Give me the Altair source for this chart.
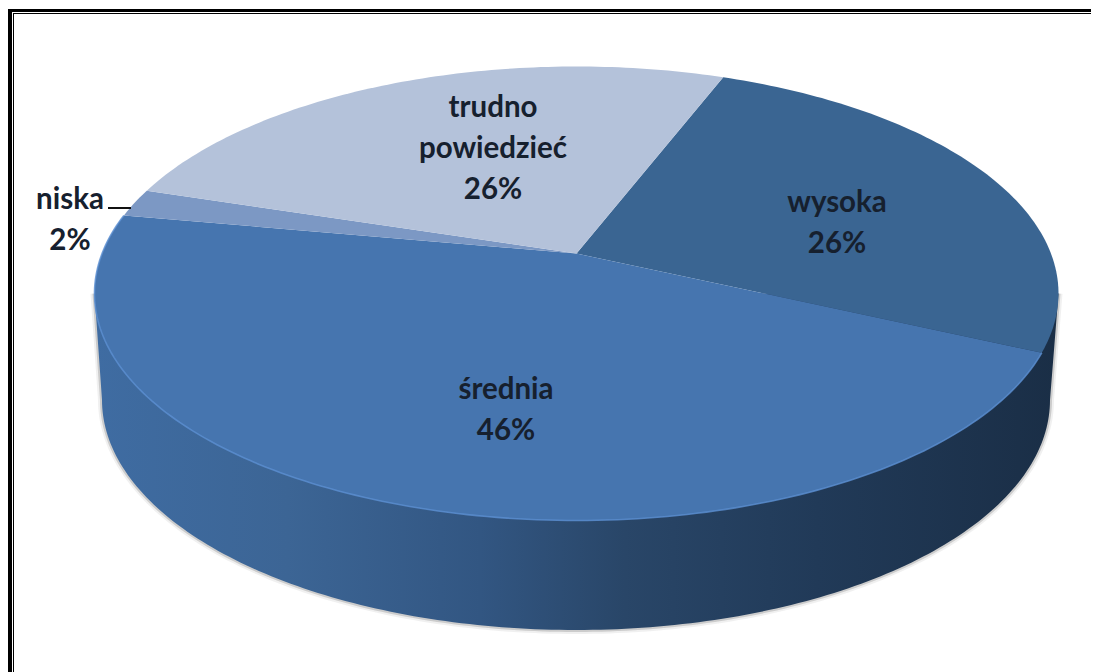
import math
import altair as alt
import pandas as pd

# --- chart values ---
categories = ["wysoka", "średnia", "niska", "trudno powiedzieć"]
shares = [26, 46, 2, 26]
colors = ["#3a6592", "#4675af", "#7c98c4", "#b4c2da"]
label_texts = ["wysoka\n26%", "średnia\n46%", "niska\n2%", "trudno\npowiedzieć\n26%"]

# --- layout of the picture ---
W, H, OX, OY = 1083, 664, 8, 8
CX, CY, RX, RY = 576.5, 293.5, 482.0, 227.0
APEX_Y = -0.176            # perspective shift of the pie centre, in ellipse units
START_DEG = 21.1
BOTTOM = dict(cx=576.0, cy=400.0, rx=474.0, ry=230.0)


def to_unit(px, py):
    return (px - CX) / RX, (py - CY) / RY


def project(deg, r=1.0):
    """Point of the tilted pie: angle clockwise from the top, r in 0..1."""
    a = math.radians(deg)
    X, Y = r * math.sin(a), -r * math.cos(a)
    d = 1 + APEX_Y * Y
    return X * math.sqrt(1 - APEX_Y ** 2) / d, (Y + APEX_Y) / d


# top face slices
slice_rows = []
angle = START_DEG
edge_rows = []
for cat, share in zip(categories, shares):
    sweep = share * 3.6
    pts = [project(0, 0)]
    n = max(4, int(sweep))
    for k in range(n + 1):
        pts.append(project(angle + sweep * k / n))
    pts.append(project(0, 0))
    for i, (x, y) in enumerate(pts):
        slice_rows.append({"cat": cat, "i": i, "x": x, "y": y})
    if cat == "średnia":
        for k in range(n + 1):
            x, y = project(angle + sweep * k / n)
            edge_rows.append({"i": k, "x": x, "y": y})
    angle += sweep

# side wall outline: right end of the top face, lower edge of bottom, left end of the top face
wall_rows = []
for k in range(0, 181):
    t = math.radians(k)
    px = BOTTOM["cx"] + BOTTOM["rx"] * math.cos(t)
    py = BOTTOM["cy"] + BOTTOM["ry"] * math.sin(t)
    x, y = to_unit(px, py)
    wall_rows.append({"i": k + 1, "x": x, "y": y})
wall_rows = [{"i": 0, "x": 1.0, "y": 0.0}] + wall_rows + [{"i": 182, "x": -1.0, "y": 0.0}]
shadow_rows = wall_rows

x_scale = alt.Scale(domain=[(OX - CX) / RX, (OX + W - CX) / RX], range=[0, W], nice=False, zero=False)
y_scale = alt.Scale(domain=[(OY + H - CY) / RY, (OY - CY) / RY], nice=False, zero=False)
X = alt.X("x:Q", scale=x_scale, axis=None)
Y = alt.Y("y:Q", scale=y_scale, axis=None)
ORDER = alt.Order("i:Q")

wall_gradient = alt.Gradient(
    gradient="linear", x1=0, x2=1, y1=0, y2=0,
    stops=[
        alt.GradientStop(offset=0.0, color="#3f6ca2"),
        alt.GradientStop(offset=0.2, color="#3c6595"),
        alt.GradientStop(offset=0.4, color="#325682"),
        alt.GradientStop(offset=0.55, color="#294668"),
        alt.GradientStop(offset=0.75, color="#213a58"),
        alt.GradientStop(offset=1.0, color="#1a2e46"),
    ],
)

shadow_wide = alt.Chart(pd.DataFrame(shadow_rows)).mark_line(
    stroke="#808080", strokeWidth=8, opacity=0.12
).encode(x=X, y=Y, order=ORDER)
shadow_thin = alt.Chart(pd.DataFrame(shadow_rows)).mark_line(
    stroke="#606060", strokeWidth=4, opacity=0.25
).encode(x=X, y=Y, order=ORDER)
wall = alt.Chart(pd.DataFrame(wall_rows)).mark_line(
    fill=wall_gradient, strokeWidth=0
).encode(x=X, y=Y, order=ORDER)

faces = alt.Chart(pd.DataFrame(slice_rows)).mark_line(strokeWidth=0).encode(
    x=X, y=Y, order=ORDER,
    fill=alt.Fill("cat:N", scale=alt.Scale(domain=categories, range=colors), legend=None),
    detail="cat:N",
)
highlight = alt.Chart(pd.DataFrame(edge_rows)).mark_line(
    stroke="#5c90d2", strokeWidth=1.6, opacity=0.8
).encode(x=X, y=Y, order=ORDER)

# centre of each label's first line
label_centres = [(837, 203), (506, 390), (70, 200), (493, 108)]
label_rows = []
for txt, (px, py) in zip(label_texts, label_centres):
    x, y = to_unit(px, py)
    label_rows.append({"x": x, "y": y, "txt": txt})
labels = alt.Chart(pd.DataFrame(label_rows)).mark_text(
    font="Lato", fontWeight="bold", fontSize=29.5, lineHeight=41, lineBreak="\n",
    color="#16202e", align="center", baseline="middle",
).encode(x=X, y=Y, text="txt:N")

lx1, ly = to_unit(108, 208)
lx2, _ = to_unit(131, 208)
leader = alt.Chart(pd.DataFrame([{"x": lx1, "x2": lx2, "y": ly}])).mark_rule(
    color="#111111", strokeWidth=2
).encode(x=X, x2="x2:Q", y=Y)

frame_rows = pd.DataFrame([{"k": 0}])
frame = [
    alt.Chart(frame_rows).mark_rule(color="black", strokeWidth=3).encode(
        x=alt.value(0), x2=alt.value(W), y=alt.value(2.5)),
    alt.Chart(frame_rows).mark_rule(color="black", strokeWidth=1).encode(
        x=alt.value(5), x2=alt.value(W), y=alt.value(5.5)),
    alt.Chart(frame_rows).mark_rule(color="black", strokeWidth=4).encode(
        x=alt.value(2), y=alt.value(1), y2=alt.value(H)),
    alt.Chart(frame_rows).mark_rule(color="black", strokeWidth=1).encode(
        x=alt.value(5.5), y=alt.value(5), y2=alt.value(H)),
]

chart = alt.layer(
    shadow_wide, shadow_thin, wall, faces, highlight, leader, labels, *frame
).properties(
    width=W, height=H, padding=0, background="white",
    autosize=alt.AutoSizeParams(type="none"),
).configure_view(stroke=None)

chart.save("out.html", embed_options={"renderer": "svg", "actions": False})
